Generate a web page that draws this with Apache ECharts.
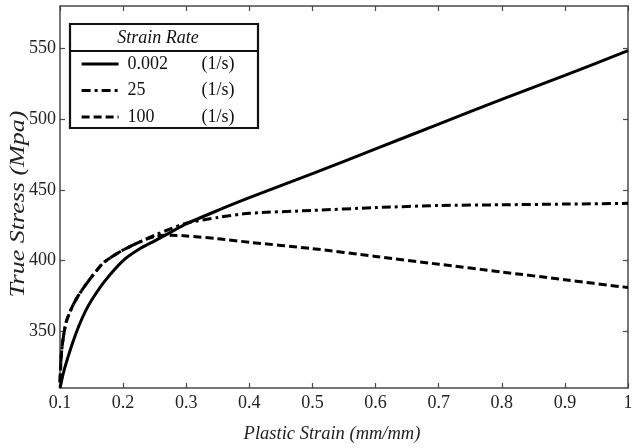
<!DOCTYPE html>
<html>
<head>
<meta charset="utf-8">
<script src="https://cdn.jsdelivr.net/npm/echarts@6/dist/echarts.min.js"></script>
<style>
  html, body { margin: 0; padding: 0; background: #fff; }
  #chart { width: 632px; height: 448px; }
</style>
</head>
<body>
<div id="chart"></div>
<script>
// Plastic strain (mm/mm) sample points shared by all three curves
const strain = [0.1, 0.102, 0.105, 0.11, 0.12, 0.13, 0.14, 0.15, 0.17, 0.2, 0.225, 0.25,
                0.275, 0.3, 0.35, 0.4, 0.5, 0.6, 0.7, 0.8, 0.9, 1.0];

// True stress (MPa) for each strain rate
const stressRate0002 = [310, 314, 320, 328, 342, 354, 364, 372, 385, 400, 408, 414,
                        420, 426, 435.5, 444.5, 461.5, 479, 496.5, 514, 531, 548.4];
const stressRate25 = [314, 333, 345, 357, 368, 376, 382.5, 388.5, 399, 407.5, 413, 418,
                      422.5, 426.5, 430.5, 433.5, 435.5, 437.5, 439, 439.5, 440, 440.5];
const stressRate100 = [314, 333, 345, 357, 368, 376, 382.5, 388.5, 399, 407.5, 413, 417,
                       418, 417.5, 415.5, 413, 408.5, 403, 397.5, 392, 386.5, 381];

const seriesNames = ['0.002', '25', '100'];
const xTicks = [0.1, 0.2, 0.3, 0.4, 0.5, 0.6, 0.7, 0.8, 0.9, 1];
const yTicks = [350, 400, 450, 500, 550];

const pairs = ys => strain.map((x, i) => [x, ys[i]]);

const FONT = '"Liberation Serif", "DejaVu Serif", serif';
const AXIS_COLOR = '#4a4a4a';
const X_MIN = 0.1, X_MAX = 1.0, Y_MIN = 310, Y_MAX = 580;

const chart = echarts.init(document.getElementById('chart'), null, { renderer: 'canvas' });

const axisLine = { show: true, lineStyle: { color: AXIS_COLOR, width: 1.5 } };
const tick = values => ({ show: true, inside: true, length: 5, customValues: values,
                          lineStyle: { color: AXIS_COLOR, width: 1.2 } });

chart.setOption({
  backgroundColor: '#fff',
  animation: false,
  grid: { left: 60, right: 4, top: 6, bottom: 60, outerBoundsMode: 'none', containLabel: false },
  xAxis: [
    {
      type: 'value', min: X_MIN, max: X_MAX, position: 'bottom',
      axisLine, axisTick: tick(xTicks),
      axisLabel: { show: true, customValues: xTicks, margin: 6,
                   fontFamily: FONT, fontSize: 18, color: '#222',
                   formatter: v => String(Math.round(v * 10) / 10) },
      splitLine: { show: false }
    },
    {
      type: 'value', min: X_MIN, max: X_MAX, position: 'top',
      axisLine, axisTick: tick(xTicks),
      axisLabel: { show: false }, splitLine: { show: false }
    }
  ],
  yAxis: [
    {
      type: 'value', min: Y_MIN, max: Y_MAX, position: 'left',
      axisLine, axisTick: tick(yTicks),
      axisLabel: { show: true, customValues: yTicks, margin: 4,
                   fontFamily: FONT, fontSize: 18, color: '#222' },
      splitLine: { show: false }
    },
    {
      type: 'value', min: Y_MIN, max: Y_MAX, position: 'right',
      axisLine, axisTick: tick(yTicks),
      axisLabel: { show: false }, splitLine: { show: false }
    }
  ],
  legend: {
    orient: 'vertical',
    left: 80, top: 55, padding: 0,
    itemWidth: 37, itemHeight: 20, itemGap: 8.5,
    data: seriesNames,
    // hide the marker dot so only the line sample is shown
    itemStyle: { opacity: 0 },
    lineStyle: { width: 3.2 },
    textStyle: {
      fontFamily: FONT, fontSize: 18, color: '#111', padding: [0, 0, 0, 4],
      rich: {
        v: { fontFamily: FONT, fontSize: 18, color: '#111', width: 74, lineHeight: 20 },
        u: { fontFamily: FONT, fontSize: 18, color: '#111', lineHeight: 20 }
      }
    },
    formatter: name => '{v|' + name + '}{u|(1/s)}'
  },
  graphic: [
    {
      type: 'rect', z: 10, silent: true,
      shape: { x: 70, y: 24, width: 188, height: 104 },
      style: { fill: 'transparent', stroke: '#111', lineWidth: 2.2 }
    },
    {
      type: 'line', z: 10, silent: true,
      shape: { x1: 70, y1: 51, x2: 258, y2: 51 },
      style: { stroke: '#111', lineWidth: 2.2 }
    },
    {
      type: 'text', z: 10, silent: true,
      x: 158, y: 38,
      style: { text: 'Strain Rate', fontFamily: FONT, fontStyle: 'italic', fontSize: 18,
               fill: '#111', align: 'center', verticalAlign: 'middle' }
    },
    // axis titles
    {
      type: 'text', silent: true,
      x: 332, y: 434,
      style: { text: 'Plastic Strain (mm/mm)', fontFamily: FONT, fontStyle: 'italic', fontSize: 18.5,
               fill: '#222', align: 'center', verticalAlign: 'middle' }
    },
    {
      type: 'text', silent: true,
      x: 19, y: 204, rotation: Math.PI / 2, scaleX: 1.3,
      style: { text: 'True Stress (Mpa)', fontFamily: FONT, fontStyle: 'italic', fontSize: 20,
               fill: '#222', align: 'center', verticalAlign: 'middle' }
    }
  ],
  series: [
    {
      name: seriesNames[0], type: 'line', data: pairs(stressRate0002),
      symbol: 'none', smooth: 0.25,
      lineStyle: { color: '#000', width: 3, type: 'solid' },
      itemStyle: { color: '#000' }
    },
    {
      name: seriesNames[1], type: 'line', data: pairs(stressRate25),
      symbol: 'none', smooth: 0.25,
      lineStyle: { color: '#000', width: 3, type: [9, 4, 3, 4] },
      itemStyle: { color: '#000' }
    },
    {
      name: seriesNames[2], type: 'line', data: pairs(stressRate100),
      symbol: 'none', smooth: 0.25,
      lineStyle: { color: '#000', width: 3, type: [8, 4] },
      itemStyle: { color: '#000' }
    }
  ]
});
</script>
</body>
</html>
